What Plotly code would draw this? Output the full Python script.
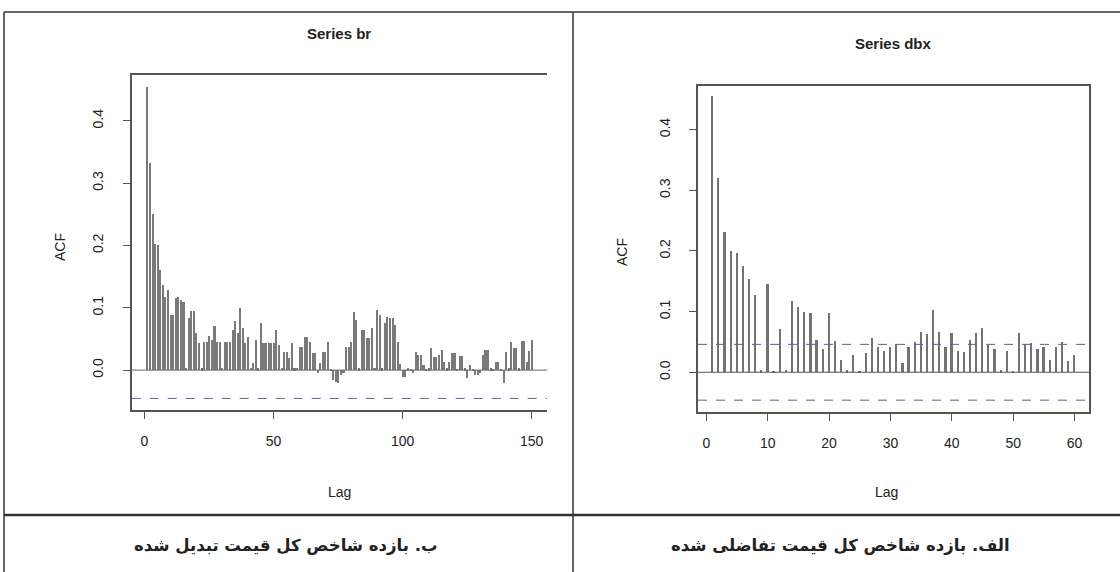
import plotly.graph_objects as go

W, H = 1120, 572

# ---------------- data ----------------
br_lags = list(range(1, 151))
br_acf = [
    0.455, 0.332, 0.250, 0.203, 0.200, 0.160, 0.136, 0.117, 0.128, 0.088,
    0.088, 0.115, 0.117, 0.113, 0.110, 0.004, 0.084, 0.095, 0.095, 0.059,
    0.043, 0.003, 0.045, 0.045, 0.055, 0.048, 0.070, 0.045, 0.045, 0.004,
    0.045, 0.045, 0.045, 0.064, 0.079, 0.060, 0.100, 0.067, 0.043, 0.053,
    0.004, 0.011, 0.048, 0.003, 0.075, 0.043, 0.043, 0.043, 0.043, 0.043,
    0.064, 0.040, 0.004, 0.029, 0.029, 0.020, 0.043, 0.003, 0.004, 0.037,
    0.037, 0.053, 0.053, 0.045, 0.027, 0.027, -0.005, 0.011, 0.029, 0.029,
    0.045, 0.002, -0.016, -0.019, -0.021, -0.008, -0.005, 0.037, 0.037, 0.045,
    0.094, 0.080, 0.003, 0.065, 0.065, 0.051, 0.051, 0.068, 0.004, 0.096,
    0.088, 0.003, 0.075, 0.085, 0.083, 0.083, 0.072, 0.045, 0.010, -0.011,
    -0.011, 0.003, 0.002, -0.005, 0.029, 0.024, 0.024, 0.008, 0.002, 0.003,
    0.036, 0.021, 0.021, 0.024, 0.032, 0.013, 0.003, 0.013, 0.027, 0.027,
    0.002, 0.022, 0.022, 0.003, -0.013, 0.008, 0.002, -0.008, -0.008, -0.004,
    0.024, 0.032, 0.032, 0.003, 0.002, 0.013, 0.013, 0.002, -0.020, 0.029,
    0.003, 0.045, 0.035, 0.035, 0.003, 0.046, 0.046, 0.013, 0.030, 0.049,
]
br_ci = 0.0454

dbx_lags = list(range(1, 61))
dbx_acf = [
    0.455, 0.320, 0.232, 0.200, 0.197, 0.176, 0.154, 0.127, 0.003, 0.146,
    0.002, 0.072, 0.004, 0.117, 0.108, 0.100, 0.097, 0.053, 0.038, 0.097,
    0.052, 0.021, 0.003, 0.028, 0.002, 0.031, 0.057, 0.041, 0.035, 0.041,
    0.046, 0.015, 0.041, 0.050, 0.067, 0.063, 0.102, 0.067, 0.042, 0.064,
    0.035, 0.034, 0.054, 0.064, 0.073, 0.045, 0.039, 0.003, 0.035, 0.002,
    0.064, 0.047, 0.048, 0.038, 0.042, 0.021, 0.042, 0.050, 0.019, 0.029,
]
dbx_ci = 0.046

br_xticks = [0, 50, 100, 150]
dbx_xticks = [0, 10, 20, 30, 40, 50, 60]
acf_yticks = [0.0, 0.1, 0.2, 0.3, 0.4]

title_left = "Series br"
title_right = "Series dbx"
caption_left = "ب. بازده شاخص کل قیمت تبدیل شده"
caption_right = "الف. بازده شاخص کل قیمت تفاضلی شده"

# ---------------- style ----------------
FONT = "Liberation Sans Narrow, Arial Narrow, Liberation Sans, Arial, sans-serif"
TXT = "#222222"
AXC = "#555555"
DASH = "#55639a"


def px_x(p):
    return p / W


def px_y(p):
    return 1 - p / H


fig = go.Figure()
fig.add_trace(go.Bar(x=br_lags, y=br_acf, width=0.8, marker_color="#7a7a7a",
                     marker_line_width=0, xaxis="x", yaxis="y", showlegend=False))
fig.add_trace(go.Bar(x=dbx_lags, y=dbx_acf, width=0.28, marker_color="#737373",
                     marker_line_width=0, xaxis="x2", yaxis="y2", showlegend=False))

common_axis = dict(ticks="outside", ticklen=7, tickcolor=AXC, tickwidth=1,
                   showline=True, linecolor=AXC, linewidth=1.5,
                   showgrid=False, zeroline=False,
                   tickfont=dict(family=FONT, size=14, color=TXT))

fig.update_layout(
    width=W, height=H, margin=dict(l=0, r=0, t=0, b=0),
    paper_bgcolor="white", plot_bgcolor="white", bargap=0,
    xaxis=dict(domain=[px_x(131.7), px_x(547)], range=[-4.96, 155.96],
               tickvals=br_xticks, anchor="y", mirror=True,
               ticklabelstandoff=10, **common_axis),
    yaxis=dict(domain=[px_y(410), px_y(75)], range=[-0.064, 0.4735],
               tickvals=acf_yticks, tickformat=".1f", tickangle=-90,
               anchor="x", mirror=False, ticklabelstandoff=14, **common_axis),
    xaxis2=dict(domain=[px_x(698), px_x(1089)], range=[-1.36, 62.36],
                tickvals=dbx_xticks, anchor="y2", mirror=True,
                ticklabelstandoff=10, **common_axis),
    yaxis2=dict(domain=[px_y(412), px_y(86)], range=[-0.0655, 0.472],
                tickvals=acf_yticks, tickformat=".1f", tickangle=-90,
                anchor="x2", mirror=True, ticklabelstandoff=14, **common_axis),
)

shapes = []
# zero lines and confidence bounds
shapes.append(dict(type="line", xref="x domain", yref="y", x0=0, x1=1, y0=0, y1=0,
                   line=dict(color="#666666", width=1)))
shapes.append(dict(type="line", xref="x domain", yref="y", x0=0, x1=1,
                   y0=-br_ci, y1=-br_ci, line=dict(color=DASH, width=1, dash="dash")))
shapes.append(dict(type="line", xref="x2 domain", yref="y2", x0=0, x1=1, y0=0, y1=0,
                   line=dict(color="#555555", width=1.2)))
for s in (dbx_ci, -dbx_ci):
    shapes.append(dict(type="line", xref="x2 domain", yref="y2", x0=0, x1=1,
                       y0=s, y1=s, line=dict(color=DASH, width=1, dash="dash")))

# table frame
tbl = dict(color="#333333", width=1.5)
shapes.append(dict(type="line", xref="paper", yref="paper", x0=px_x(4), x1=1,
                   y0=px_y(12), y1=px_y(12), line=tbl))
shapes.append(dict(type="line", xref="paper", yref="paper", x0=px_x(4), x1=px_x(4),
                   y0=px_y(12), y1=0, line=tbl))
shapes.append(dict(type="line", xref="paper", yref="paper", x0=px_x(573), x1=px_x(573),
                   y0=px_y(12), y1=0, line=tbl))
shapes.append(dict(type="line", xref="paper", yref="paper", x0=px_x(4), x1=1,
                   y0=px_y(515), y1=px_y(515), line=dict(color="#333333", width=2.5)))
fig.update_layout(shapes=shapes)

ann = []


def text(x, y, s, size=14, bold=False, angle=0, family=FONT):
    t = f"<b>{s}</b>" if bold else s
    ann.append(dict(x=px_x(x), y=px_y(y), xref="paper", yref="paper", text=t,
                    showarrow=False, textangle=angle, xanchor="center", yanchor="middle",
                    font=dict(family=family, size=size, color=TXT)))


text(339, 33, title_left, size=15, bold=True)
text(893, 44, title_right, size=15, bold=True)
text(339, 492, "Lag", size=14)
text(886, 492, "Lag", size=14)
text(60, 247, "ACF", size=14, angle=-90)
text(622, 252, "ACF", size=14, angle=-90)
text(286, 545, caption_left, size=16.5, bold=True, family="DejaVu Sans, Noto Sans, sans-serif")
text(840, 545, caption_right, size=16.5, bold=True, family="DejaVu Sans, Noto Sans, sans-serif")
fig.update_layout(annotations=ann)

fig.write_html("out.html", config={"displayModeBar": False},
               post_script="document.body.style.margin='0';")
